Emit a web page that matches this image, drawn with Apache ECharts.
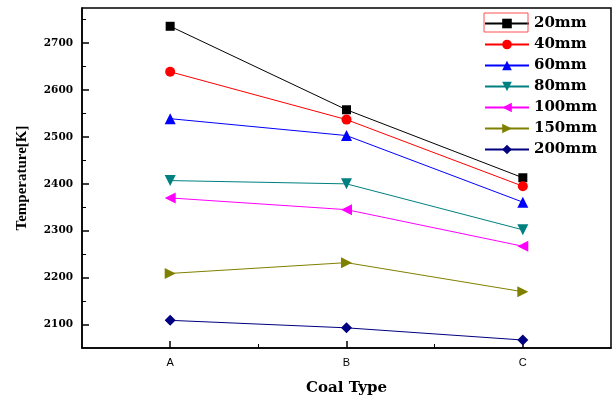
<!DOCTYPE html>
<html>
<head>
<meta charset="utf-8">
<script src="https://cdn.jsdelivr.net/npm/echarts@6/dist/echarts.min.js"></script>
<style>
html,body{margin:0;padding:0;background:#fff;}
#chart{width:613px;height:401px;}
</style>
</head>
<body>
<div id="chart"></div>
<script>
const categories = ['A', 'B', 'C'];
const seriesNames = ['20mm', '40mm', '60mm', '80mm', '100mm', '150mm', '200mm'];
const t20 = [2736, 2558, 2413];
const t40 = [2639, 2537, 2395];
const t60 = [2539, 2503, 2361];
const t80 = [2407, 2400, 2302];
const t100 = [2370, 2345, 2267];
const t150 = [2209, 2232, 2170];
const t200 = [2109, 2093, 2067];
const yTickLabels = [2100, 2200, 2300, 2400, 2500, 2600, 2700];
const yMinorTicks = [2150, 2250, 2350, 2450, 2550, 2650, 2750];
const xMinorTicks = [1.5, 2.5];

const values = [t20, t40, t60, t80, t100, t150, t200];
const colors = ['#000000', '#ff0000', '#0000ff', '#008080', '#ff00ff', '#808000', '#000080'];
const symbols = ['rect', 'circle', 'triangle', 'triangle', 'triangle', 'triangle', 'diamond'];
const rotations = [0, 0, 0, 180, 90, -90, 0];
const sizes = [9, 10, 11, 11, 11, 11, 11];

const chart = echarts.init(document.getElementById('chart'), null, {renderer: 'canvas'});

const series = seriesNames.map((name, i) => ({
  name: name,
  type: 'line',
  xAxisIndex: 0,
  yAxisIndex: 0,
  data: values[i],
  symbol: symbols[i],
  symbolRotate: rotations[i],
  symbolSize: sizes[i],
  showAllSymbol: true,
  lineStyle: {color: colors[i], width: 1},
  itemStyle: {color: colors[i]},
  emphasis: {disabled: true},
  animation: false
}));

chart.setOption({
  animation: false,
  backgroundColor: '#ffffff',
  grid: {
    left: 82, top: 8, right: 2, bottom: 52,
    show: true, borderColor: '#000', borderWidth: 1.5, backgroundColor: 'transparent'
  },
  legend: {
    orient: 'vertical',
    left: 484, top: 16,
    padding: 0,
    itemWidth: 44, itemHeight: 12, itemGap: 6,
    data: seriesNames,
    textStyle: {fontFamily: 'DejaVu Serif', fontWeight: 'bold', fontSize: 15, color: '#000', padding: [0, 0, 0, 0]},
    selectedMode: false
  },
  xAxis: [{
    type: 'category',
    data: categories,
    boundaryGap: true,
    axisLine: {show: true, lineStyle: {color: '#000', width: 1.5}},
    axisTick: {show: true, inside: true, alignWithLabel: true, length: 7, lineStyle: {color: '#000', width: 1.5}},
    axisLabel: {fontFamily: 'Liberation Sans', fontSize: 11, color: '#000', margin: 9},
    splitLine: {show: false},
    name: 'Coal Type',
    nameLocation: 'middle',
    nameGap: 33,
    nameTextStyle: {fontFamily: 'DejaVu Serif', fontWeight: 'bold', fontSize: 15, color: '#000'}
  }, {
    type: 'value',
    min: 0.5, max: 3.5,
    position: 'bottom',
    axisLine: {show: false},
    axisTick: {show: true, inside: true, length: 4, customValues: xMinorTicks, lineStyle: {color: '#000', width: 1}},
    axisLabel: {show: false},
    splitLine: {show: false}
  }],
  yAxis: [{
    type: 'value',
    min: 2050, max: 2775,
    position: 'left',
    axisLine: {show: true, lineStyle: {color: '#000', width: 1.5}},
    axisTick: {show: true, inside: true, length: 7, customValues: yTickLabels, lineStyle: {color: '#000', width: 1.5}},
    axisLabel: {customValues: yTickLabels, formatter: v => String(v), fontFamily: 'DejaVu Serif', fontWeight: 'bold', fontSize: 10.5, color: '#000', margin: 9},
    splitLine: {show: false},
    name: 'Temperature[K]',
    nameLocation: 'middle',
    nameGap: 52,
    nameTextStyle: {fontFamily: 'Liberation Serif', fontWeight: 'bold', fontSize: 15, color: '#000'}
  }, {
    type: 'value',
    min: 2050, max: 2775,
    position: 'left',
    offset: 0,
    axisLine: {show: false},
    axisTick: {show: true, inside: true, length: 4, customValues: yMinorTicks, lineStyle: {color: '#000', width: 1}},
    axisLabel: {show: false},
    splitLine: {show: false}
  }],
  graphic: [{
    type: 'rect',
    shape: {x: 484, y: 13, width: 44, height: 19},
    style: {fill: 'none', stroke: '#ff5050', lineWidth: 1},
    z: 100
  }],
  series: series
});
</script>
</body>
</html>
